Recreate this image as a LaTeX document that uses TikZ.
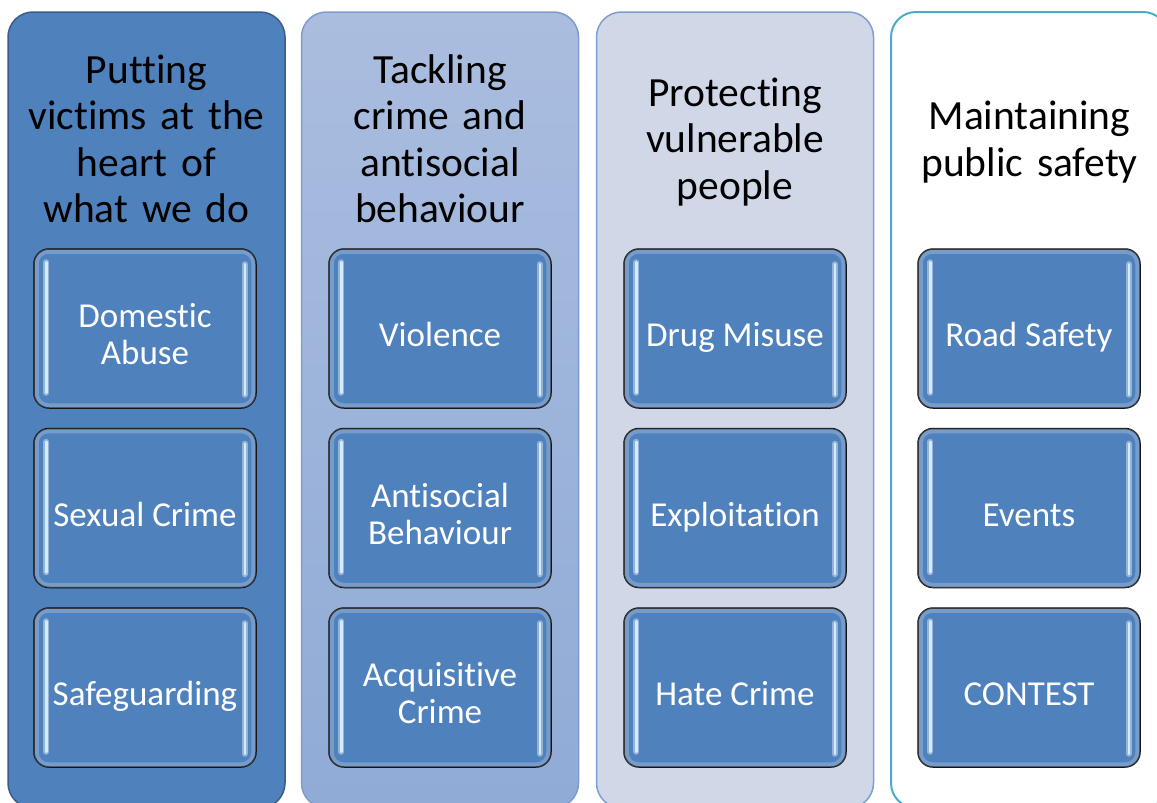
\documentclass[tikz,border=0pt]{standalone}
\usepackage{fontspec}
\setmainfont{Carlito}[Ligatures=NoCommon]
\usetikzlibrary{positioning}

\definecolor{colblue}{RGB}{79,129,189}
\definecolor{colblueedge}{RGB}{56,93,138}
\definecolor{colmidtop}{RGB}{170,189,223}
\definecolor{colmidbot}{RGB}{144,171,214}
\definecolor{colmidedge}{RGB}{126,157,206}
\definecolor{collight}{RGB}{208,216,232}
\definecolor{collightedge}{RGB}{124,159,208}
\definecolor{colteal}{RGB}{75,172,198}
\definecolor{glintcol}{RGB}{210,236,255}

\tikzset{
    colbox/.style={draw, line width=1.5pt, rounded corners=25pt, minimum width=277pt, minimum height=796pt},
    coltitle/.style={align=center, text width=270pt, font=\fontsize{41.5}{46.5}\selectfont,
        execute at begin node=\strut, execute at end node=\strut},
    itembox/.style={draw=black, line width=1.5pt, fill=colblue, rounded corners=15pt,
        minimum width=222pt, minimum height=159pt},
    itemtext/.style={text=white, align=center, font=\fontsize{35}{37}\selectfont,
        execute at begin node=\strut, execute at end node=\strut},
    rim/.style={draw=white, opacity=0.22, line width=5pt, rounded corners=12pt},
    glint/.style={draw=glintcol, line width=2.5pt, line cap=round},
    glow/.style={draw=white, opacity=0.4, line width=6pt, line cap=round}
}

\begin{document}
\begin{tikzpicture}[x=1pt, y=1pt]
    \useasboundingbox (0,0) rectangle (1157,-803);
    \clip (0,0) rectangle (1157,-803);
    % columns
    \node[colbox, draw=colblueedge, fill=colblue] (col1) at (146.5,-410) {};
    \node[colbox, draw=colmidedge, top color=colmidtop, bottom color=colmidbot] (col2) at (440,-410) {};
    \node[colbox, draw=collightedge, fill=collight] (col3) at (735,-410) {};
    \node[colbox, draw=colteal, line width=2pt, fill=white] (col4) at (1029.5,-410) {};
    % titles
    \node[coltitle] (title1) at (146.5,-143.5) {Putting\\victims at the\\heart of\\what we do};
    \node[coltitle] (title2) at (440,-143.5) {Tackling\\crime and\\antisocial\\behaviour};
    \node[coltitle] (title3) at (735,-143.5) {Protecting\\vulnerable\\people};
    \node[coltitle] (title4) at (1029.5,-143.5) {Maintaining\\public safety};
    % items
    \node[itembox] (dom) at (145,-328.5) {};
    \node[itembox, below=19pt of dom] (sex) {};
    \node[itembox, below=19pt of sex] (safe) {};
    \node[itembox] (viol) at (440,-328.5) {};
    \node[itembox, below=19pt of viol] (asb) {};
    \node[itembox, below=19pt of asb] (acq) {};
    \node[itembox] (drug) at (735,-328.5) {};
    \node[itembox, below=19pt of drug] (expl) {};
    \node[itembox, below=19pt of expl] (hate) {};
    \node[itembox] (road) at (1029,-328.5) {};
    \node[itembox, below=19pt of road] (event) {};
    \node[itembox, below=19pt of event] (cont) {};
    % highlights on the item boxes
    \foreach \n in {dom,sex,safe,viol,asb,acq,drug,expl,hate,road,event,cont}{
        \draw[rim] ([shift={(3pt,-3pt)}]\n.north west) rectangle ([shift={(-3pt,3pt)}]\n.south east);
        \draw[glow] ([xshift=13pt,yshift=-14pt]\n.north west) -- ([xshift=13pt,yshift=16pt]\n.south west);
        \draw[glint] ([xshift=13pt,yshift=-14pt]\n.north west) -- ([xshift=13pt,yshift=16pt]\n.south west);
        \draw[glow] ([xshift=-12pt,yshift=-16pt]\n.north east) -- ([xshift=-12pt,yshift=14pt]\n.south east);
        \draw[glint] ([xshift=-12pt,yshift=-16pt]\n.north east) -- ([xshift=-12pt,yshift=14pt]\n.south east);
    }
    % item labels
    \node[itemtext] (domtext) at ([yshift=-11pt]dom.center) {Domestic\\Abuse};
    \node[itemtext] (sextext) at ([yshift=-11pt]sex.center) {Sexual Crime};
    \node[itemtext] (safetext) at ([yshift=-11pt]safe.center) {Safeguarding};
    \node[itemtext] (violtext) at ([yshift=-11pt]viol.center) {Violence};
    \node[itemtext] (asbtext) at ([yshift=-11pt]asb.center) {Antisocial\\Behaviour};
    \node[itemtext] (acqtext) at ([yshift=-11pt]acq.center) {Acquisitive\\Crime};
    \node[itemtext] (drugtext) at ([yshift=-11pt]drug.center) {Drug Misuse};
    \node[itemtext] (expltext) at ([yshift=-11pt]expl.center) {Exploitation};
    \node[itemtext] (hatetext) at ([yshift=-11pt]hate.center) {Hate Crime};
    \node[itemtext] (roadtext) at ([yshift=-11pt]road.center) {Road Safety};
    \node[itemtext] (eventtext) at ([yshift=-11pt]event.center) {Events};
    \node[itemtext] (conttext) at ([yshift=-11pt]cont.center) {CONTEST};
\end{tikzpicture}
\end{document}
